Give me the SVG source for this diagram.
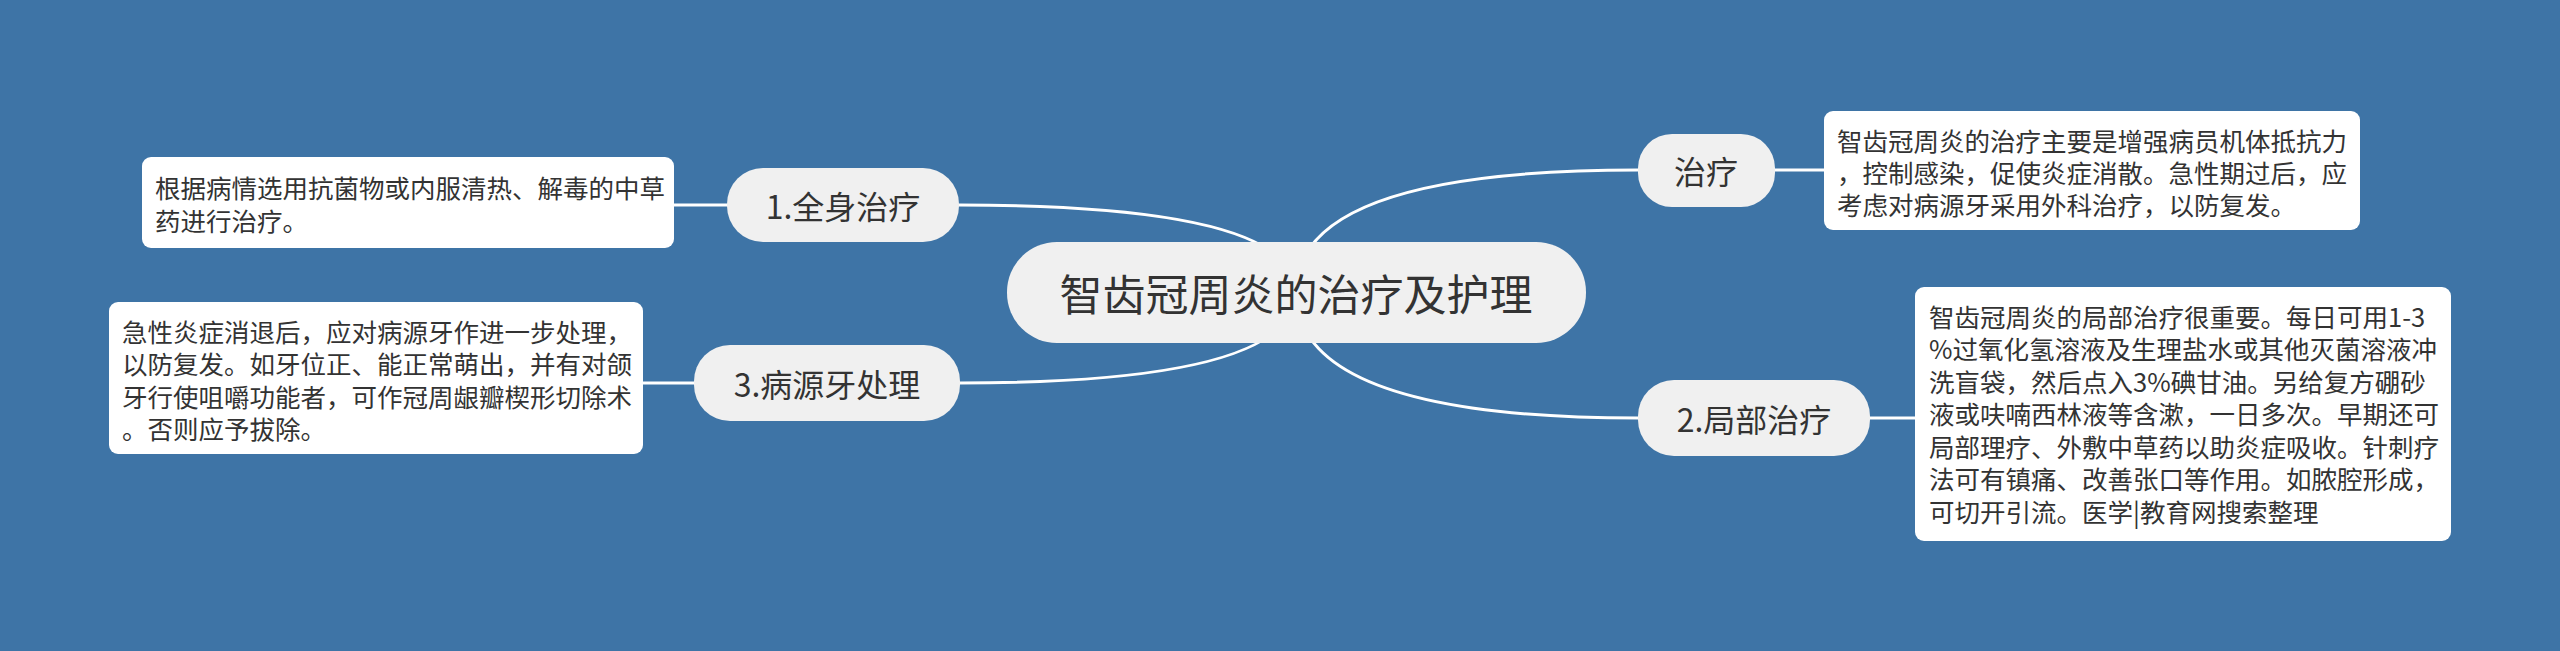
<svg xmlns="http://www.w3.org/2000/svg" width="2560" height="651" viewBox="0 0 2560 651">
<style>
.bg{fill:#3e74a6}
.node{fill:#f0f0f0}
.box{fill:#ffffff}
.lk{fill:none;stroke:#ffffff;stroke-width:3;stroke-linecap:round}
.t{font-family:"Noto Sans CJK SC","Liberation Sans",sans-serif;fill:#333333}
.nt{font-size:32px;text-anchor:middle;dominant-baseline:central}
.rt{font-size:43px;text-anchor:middle;dominant-baseline:central}
.bt{font-size:25.5px;dominant-baseline:central}
</style>
<rect class="bg" x="0" y="0" width="2560" height="651"/>
<g id="connectors">
<path class="lk" d="M1296,292 Q1296,170 1638,170"/>
<path class="lk" d="M1296,292 Q1296,418 1638,418"/>
<path class="lk" d="M1296,292 Q1296,205 959,205"/>
<path class="lk" d="M1296,292 Q1296,383 960,383"/>
<path class="lk" d="M1775,170 L1824,170"/>
<path class="lk" d="M1870,418 L1915,418"/>
<path class="lk" d="M727,205 L674,205"/>
<path class="lk" d="M694,383 L643,383"/>
</g>
<g id="root">
<rect class="node" x="1007" y="242" width="579" height="101" rx="50"/>
<text class="t rt" x="1296" y="292">智齿冠周炎的治疗及护理</text>
</g>
<g id="n-zhiliao">
<rect class="node" x="1638" y="134" width="137" height="73" rx="34"/>
<text class="t nt" x="1706" y="170">治疗</text>
</g>
<g id="n-zhiliao-note">
<rect class="box" x="1824" y="111" width="536" height="119" rx="9"/>
<text class="t bt" x="1837" y="139">智齿冠周炎的治疗主要是增强病员机体抵抗力</text>
<text class="t bt" x="1837" y="171">，控制感染，促使炎症消散。急性期过后，应</text>
<text class="t bt" x="1837" y="203">考虑对病源牙采用外科治疗，以防复发。</text>
</g>
<g id="n-jubu">
<rect class="node" x="1638" y="380" width="232" height="76" rx="36"/>
<text class="t nt" x="1754" y="418">2.局部治疗</text>
</g>
<g id="n-jubu-note">
<rect class="box" x="1915" y="287" width="536" height="254" rx="9"/>
<text class="t bt" x="1929" y="315">智齿冠周炎的局部治疗很重要。每日可用1-3</text>
<text class="t bt" x="1929" y="347.5">%过氧化氢溶液及生理盐水或其他灭菌溶液冲</text>
<text class="t bt" x="1929" y="380">洗盲袋，然后点入3%碘甘油。另给复方硼砂</text>
<text class="t bt" x="1929" y="412.5">液或呋喃西林液等含漱，一日多次。早期还可</text>
<text class="t bt" x="1929" y="445">局部理疗、外敷中草药以助炎症吸收。针刺疗</text>
<text class="t bt" x="1929" y="477.5">法可有镇痛、改善张口等作用。如脓腔形成，</text>
<text class="t bt" x="1929" y="510">可切开引流。医学|教育网搜索整理</text>
</g>
<g id="n-quanshen">
<rect class="node" x="727" y="168" width="232" height="74" rx="36"/>
<text class="t nt" x="843" y="205">1.全身治疗</text>
</g>
<g id="n-quanshen-note">
<rect class="box" x="142" y="157" width="532" height="91" rx="9"/>
<text class="t bt" x="155" y="186">根据病情选用抗菌物或内服清热、解毒的中草</text>
<text class="t bt" x="155" y="219">药进行治疗。</text>
</g>
<g id="n-bingyuan">
<rect class="node" x="694" y="345" width="266" height="76" rx="36"/>
<text class="t nt" x="827" y="383">3.病源牙处理</text>
</g>
<g id="n-bingyuan-note">
<rect class="box" x="109" y="302" width="534" height="152" rx="9"/>
<text class="t bt" x="122" y="330">急性炎症消退后，应对病源牙作进一步处理，</text>
<text class="t bt" x="122" y="362.5">以防复发。如牙位正、能正常萌出，并有对颌</text>
<text class="t bt" x="122" y="395">牙行使咀嚼功能者，可作冠周龈瓣楔形切除术</text>
<text class="t bt" x="122" y="427.5">。否则应予拔除。</text>
</g>
</svg>
